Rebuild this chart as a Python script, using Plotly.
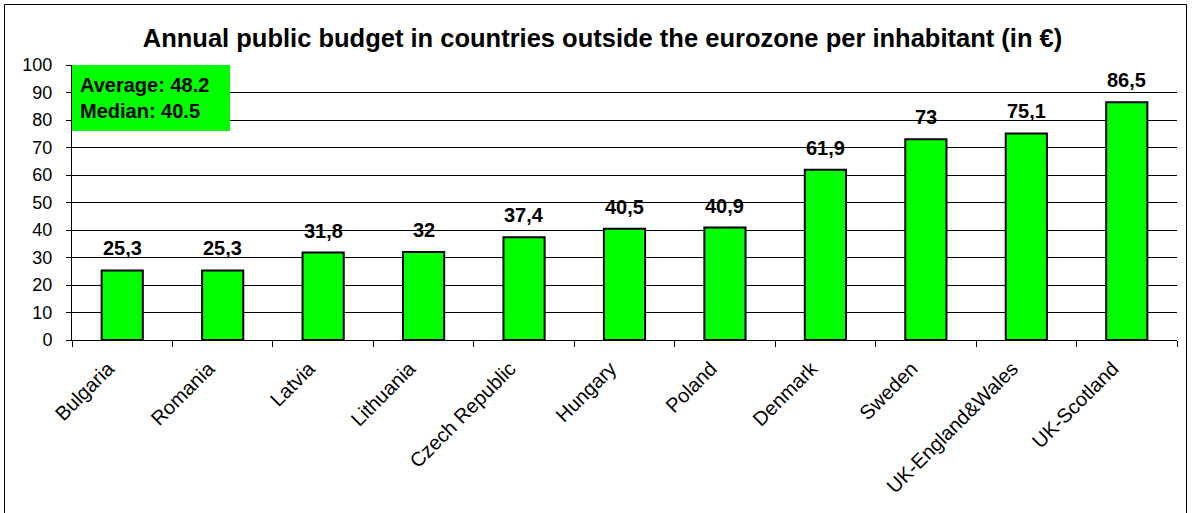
import plotly.graph_objects as go

countries = ["Bulgaria", "Romania", "Latvia", "Lithuania", "Czech Republic", "Hungary",
             "Poland", "Denmark", "Sweden", "UK-England&Wales", "UK-Scotland"]
budget = [25.3, 25.3, 31.8, 32, 37.4, 40.5, 40.9, 61.9, 73, 75.1, 86.5]
y_ticks = [0, 10, 20, 30, 40, 50, 60, 70, 80, 90, 100]
title = "Annual public budget in countries outside the eurozone per inhabitant (in €)"
box_text = "Average: 48.2<br>Median: 40.5"

FONT = "Arial, Liberation Sans, sans-serif"
labels = [f"{v:g}".replace(".", ",") for v in budget]

W, H = 1192, 513
L, R, T, B = 72, 15, 65, 173
pw, ph = W - L - R, H - T - B

fig = go.Figure(go.Bar(
    x=countries, y=budget,
    marker=dict(color="#00FF00", line=dict(color="black", width=2)),
    width=0.41, hoverinfo="x+y",
))

for c, v, t in zip(countries, budget, labels):
    fig.add_annotation(x=c, y=v, text=f"<b>{t}</b>", showarrow=False,
                       xanchor="center", yanchor="bottom", yshift=9,
                       font=dict(family=FONT, size=20, color="black"))

fig.update_layout(
    width=W, height=H,
    margin=dict(l=L, r=R, t=T, b=B),
    paper_bgcolor="white", plot_bgcolor="white",
    showlegend=False,
    font=dict(family=FONT, color="black"),
    title=dict(text=f"<b>{title}</b>", x=(143 + 1062) / 2 / W, xanchor="center",
               y=1 - 38 / H, yanchor="middle",
               font=dict(family=FONT, size=25.5, color="black")),
    xaxis=dict(tickangle=-45, tickfont=dict(family=FONT, size=20, color="black"),
               showline=True, linecolor="black", linewidth=1,
               ticks="outside", tickson="boundaries", ticklen=6, tickcolor="black",
               ticklabelstandoff=8, ticklabelshift=-14,
               showgrid=False, range=[-0.5, 10.5]),
    yaxis=dict(range=[0, 100], tickvals=y_ticks,
               tickfont=dict(family=FONT, size=18, color="black"),
               showgrid=True, gridcolor="black", gridwidth=1,
               showline=True, linecolor="black", linewidth=1,
               ticks="outside", ticklen=5, tickcolor="black", zeroline=False,
               ticklabelstandoff=10),
    bargap=0.59,
)

# green info box
fig.add_shape(type="rect", xref="paper", yref="paper",
              x0=0, x1=(230 - L) / pw, y0=1 - (131 - T) / ph, y1=1,
              fillcolor="#00FF00", line=dict(width=0), layer="above")
fig.add_annotation(xref="paper", yref="paper", x=(78 - L) / pw, y=1 - (98 - T) / ph,
                   xanchor="left", yanchor="middle", align="left", showarrow=False,
                   text=f"<b>{box_text}</b>",
                   font=dict(family=FONT, size=20, color="black"))

# outer chart border
fig.add_shape(type="rect", xref="paper", yref="paper",
              x0=(4.5 - L) / pw, x1=(1186.5 - L) / pw,
              y0=1 - (530 - T) / ph, y1=1 + (T - 4.5) / ph,
              line=dict(color="black", width=1), fillcolor="rgba(0,0,0,0)", layer="below")

fig.write_html("out.html", config={"displayModeBar": False},
               post_script="document.body.style.margin='0';document.body.style.overflow='hidden';")
